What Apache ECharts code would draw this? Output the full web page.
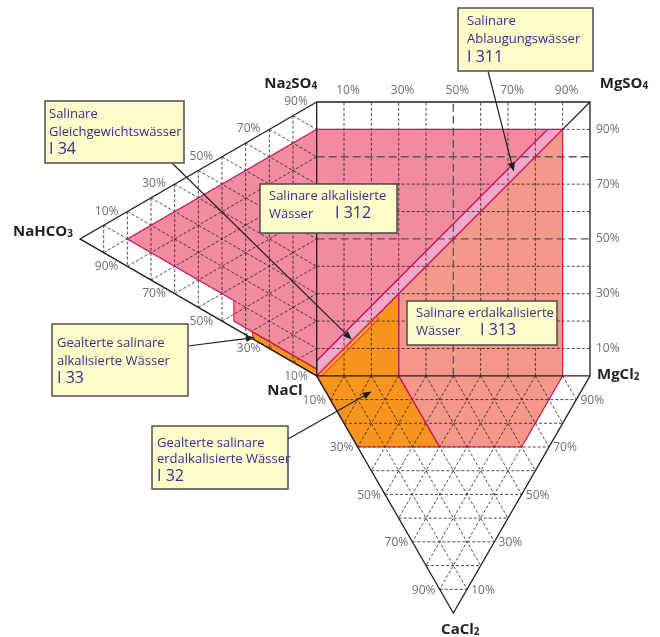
<!DOCTYPE html>
<html>
<head>
<meta charset="utf-8">
<style>
  html, body { margin: 0; width: 100%; height: 100%; background: #fff; }
  #main { width: 660px; height: 637px; }
</style>
<script src="https://cdn.jsdelivr.net/npm/echarts/dist/echarts.min.js"></script>
</head>
<body>
<div id="main"></div>
<script>
// square side = 100 units, the triangles are equilateral (height H)
var H = 86.6;
var tickValues = [10, 20, 30, 40, 50, 60, 70, 80, 90];
var labelValues = [10, 30, 50, 70, 90];
var longDashX = [50];
var longDashY = [50, 80];

// regions, in square units (NaCl corner = 0,0)
var regionI312 = [[-69.3, 50], [0, 90], [84.5, 90], [0, 5.5], [0, 2.5], [-30.3, 20], [-30.3, 27.5]];
var regionI313 = [[30, 30], [90, 90], [90, 0], [75, -26], [45, -26], [30, 0]];
var regionI32 = [[0, 0], [30, 30], [30, 0], [45, -26], [15, -26]];
var regionI311 = [[0, 0], [0, 5.5], [84.5, 90], [90, 90]];
var regionI33 = [[-23.4, 13.5], [-23.4, 16], [0, 2.5], [0, 0]];
var regionI34 = [[1.8, 0], [22.5, 20.7], [21.5, 21.7], [0, 0.2]];

// where the callout arrows point
var targetI311 = [72.1, 74.6];
var targetI34 = [12.9, 13.2];
var targetI33 = [-22.6, 14.0];
var targetI32 = [20.1, -5.7];

var FONT = 'Open Sans';
var LINE_CLR = '#231f20';

var regions = [
  {pts: regionI312, fill: '#f38ba0', stroke: '#d4145a'},
  {pts: regionI313, fill: '#f59789', stroke: '#d4145a'},
  {pts: regionI32, fill: '#f7941d', stroke: '#d4145a'},
  {pts: regionI311, fill: '#f0a8c8', stroke: '#d4145a'},
  {pts: regionI33, fill: '#f7941d', stroke: '#c1272d'},
  {pts: regionI34, fill: '#fbb03b', stroke: '#e8412c'}
];

// grid lines
var segments = [];
function seg(a, b, kind) { segments.push({from: a, to: b, kind: kind}); }
tickValues.forEach(function (v) {
  var f = v / 100;
  seg([v, 0], [v, 100], longDashX.indexOf(v) >= 0 ? 'long' : 'short');
  seg([0, v], [100, v], longDashY.indexOf(v) >= 0 ? 'long' : 'short');
  // left triangle
  seg([-H * f, 50 * f + 100 * (1 - f)], [-H * f, 50 * f], 'short');
  seg([-H * (1 - f), 50 * (1 - f) + 100 * f], [0, 100 * f], 'short');
  seg([-H * (1 - f), 50 * (1 - f)], [0, 100 * (1 - f)], 'short');
  // bottom triangle
  seg([50 * f, -H * f], [100 - 50 * f, -H * f], 'short');
  seg([100 * f, 0], [100 * f + 50 * (1 - f), -H * (1 - f)], 'short');
  seg([100 * (1 - f), 0], [50 * (1 - f), -H * (1 - f)], 'short');
});

var frames = [
  [[0, 0], [0, 100], [100, 100], [100, 0], [0, 0]],
  [[0, 100], [-H, 50], [0, 0]],
  [[0, 0], [50, -H], [100, 0]],
  [[100, 100], [90, 90]]
];

var lineStyles = {
  short: {stroke: LINE_CLR, lineWidth: 0.8, lineDash: [3, 2]},
  long: {stroke: '#58595b', lineWidth: 1.4, lineDash: [8, 4]}
};

// tick labels and corner names
var tickStyle = {fill: '#6d6e71', fontSize: 12, fontFamily: FONT};
var labels = [];
labelValues.forEach(function (v) {
  var f = v / 100;
  labels.push({at: [v, 100], dx: 4, dy: -11, text: v + '%', style: tickStyle});
  labels.push({at: [100, v], dx: 6, dy: 0, text: v + '%', align: 'left', style: tickStyle});
  labels.push({at: [-H * (1 - f), 50 * (1 - f) + 100 * f], dx: 3, dy: -14, text: v + '%', style: tickStyle});
  labels.push({at: [-H * f, 50 * f], dx: 3, dy: 14, text: v + '%', style: tickStyle});
  labels.push({at: [50 * f, -H * f], dx: -16, dy: 1, text: v + '%', style: tickStyle});
  labels.push({at: [100 * f + 50 * (1 - f), -H * (1 - f)], dx: 16, dy: 1, text: v + '%', style: tickStyle});
});

var nameRich = {
  n: {fontSize: 15, fontWeight: 'bold', fontFamily: FONT, fill: LINE_CLR},
  s: {fontSize: 10, fontWeight: 'bold', fontFamily: FONT, fill: LINE_CLR, verticalAlign: 'bottom', padding: [0, 0, 0, 0]}
};
function nameLabel(at, dx, dy, text, align) {
  labels.push({at: at, dx: dx, dy: dy, text: text, align: align, style: {rich: nameRich}});
}
nameLabel([0, 100], -26, -18, '{n|Na}{s|2}{n|SO}{s|4}', 'center');
nameLabel([100, 100], 34, -18, '{n|MgSO}{s|4}', 'center');
nameLabel([-H, 50], -7, -7, '{n|NaHCO}{s|3}', 'right');
nameLabel([0, 0], -14, 15, '{n|NaCl}', 'right');
nameLabel([100, 0], 7, -1, '{n|MgCl}{s|2}', 'left');
nameLabel([50, -H], 7, 17, '{n|CaCl}{s|2}', 'center');

var arrows = [
  {from: [488, 71], to: targetI311},
  {from: [172, 163], to: targetI34},
  {from: [188, 346], to: targetI33},
  {from: [288, 439], to: targetI32}
];

function renderFill(params, api) {
  var r = regions[params.dataIndex];
  return {type: 'polygon', shape: {points: r.pts.map(function (p) { return api.coord(p); })},
    style: {fill: r.fill}};
}
function renderOutline(params, api) {
  var r = regions[params.dataIndex];
  return {type: 'polygon', shape: {points: r.pts.map(function (p) { return api.coord(p); })},
    style: {fill: 'none', stroke: r.stroke, lineWidth: 1.1}};
}
function renderSegment(params, api) {
  var s = segments[params.dataIndex];
  var a = api.coord(s.from), b = api.coord(s.to);
  return {type: 'line', shape: {x1: a[0], y1: a[1], x2: b[0], y2: b[1]}, style: lineStyles[s.kind]};
}
function renderFrame(params, api) {
  var f = frames[params.dataIndex];
  return {type: 'polyline', shape: {points: f.map(function (p) { return api.coord(p); })},
    style: {fill: 'none', stroke: LINE_CLR, lineWidth: 1.3}};
}
function renderLabel(params, api) {
  var l = labels[params.dataIndex];
  var p = api.coord(l.at);
  var st = Object.assign({text: l.text, align: l.align || 'center', verticalAlign: 'middle'}, l.style);
  return {type: 'text', x: p[0] + l.dx, y: p[1] + l.dy, style: st};
}
function renderArrow(params, api) {
  var a = arrows[params.dataIndex];
  var p0 = a.from, p1 = api.coord(a.to);
  var dx = p1[0] - p0[0], dy = p1[1] - p0[1];
  var len = Math.sqrt(dx * dx + dy * dy);
  var ux = dx / len, uy = dy / len, L = 9, W = 3.5;
  var bx = p1[0] - ux * L, by = p1[1] - uy * L;
  return {type: 'group', children: [
    {type: 'line', shape: {x1: p0[0], y1: p0[1], x2: bx, y2: by}, style: {stroke: LINE_CLR, lineWidth: 1.2}},
    {type: 'polygon', shape: {points: [p1, [bx - uy * W, by + ux * W], [bx + uy * W, by - ux * W]]}, style: {fill: LINE_CLR}}
  ]};
}

function layer(items, render, z) {
  return {
    type: 'custom', coordinateSystem: 'cartesian2d', z: z, silent: true, clip: false,
    data: items.map(function () { return [0, 0]; }), renderItem: render
  };
}

function box(x, y, w, h, lines) {
  var els = [{type: 'rect', z: 100, shape: {x: x, y: y, width: w, height: h},
    style: {fill: '#fffbc9', stroke: '#4d4d4d', lineWidth: 1.5}}];
  lines.forEach(function (l) {
    els.push({type: 'text', z: 101, x: l[0], y: l[1],
      style: {text: l[2], fill: '#2e3092', fontSize: l[3] || 13, fontFamily: FONT, verticalAlign: 'middle'}});
  });
  return els;
}

var boxes = [].concat(
  box(458, 8, 135, 63, [[467, 21, 'Salinare'], [467, 39, 'Ablaugungswässer'], [467, 57, 'I 311', 16]]),
  box(45, 101, 139, 62, [[49, 114, 'Salinare'], [49, 132, 'Gleichgewichtswässer'], [49, 149, 'I 34', 16]]),
  box(260, 184, 137, 49, [[269, 196, 'Salinare alkalisierte'], [269, 214, 'Wässer'], [335, 213, 'I 312', 16]]),
  box(407, 301, 150, 44, [[416, 313, 'Salinare erdalkalisierte'], [416, 331, 'Wässer'], [480, 330, 'I 313', 16]]),
  box(52, 324, 136, 72, [[57, 343, 'Gealterte salinare'], [57, 361, 'alkalisierte Wässer'], [57, 378, 'I 33', 16]]),
  box(152, 426, 136, 63, [[157, 443, 'Gealterte salinare'], [157, 459, 'erdalkalisierte Wässer'], [157, 476, 'I 32', 16]])
);

var chart = echarts.init(document.getElementById('main'));
chart.setOption({
  animation: false,
  grid: {left: 80, top: 102, width: 510, height: 511},
  xAxis: {type: 'value', min: -86.6, max: 100, show: false},
  yAxis: {type: 'value', min: -86.6, max: 100, show: false},
  graphic: boxes,
  series: [
    layer(regions, renderFill, 2),
    layer(segments, renderSegment, 3),
    layer(regions, renderOutline, 4),
    layer(frames, renderFrame, 5),
    layer(labels, renderLabel, 6),
    layer(arrows, renderArrow, 7)
  ]
});
</script>
</body>
</html>
